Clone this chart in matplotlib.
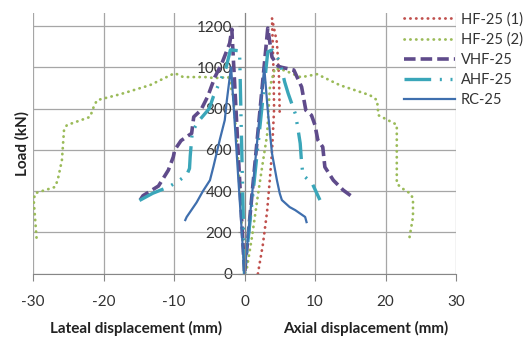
import numpy as np
import matplotlib
matplotlib.use("Agg")
import matplotlib.pyplot as plt

plt.rcParams["font.family"] = ["Lato", "DejaVu Sans"]
plt.rcParams["axes.unicode_minus"] = False

# -----------------------------
# Data
# lateral branch: from far end up to the peak, then to origin
# axial branch: from origin up to the peak, then to far end
# -----------------------------
hf1_lat_x = []
hf1_lat_y = []
hf1_ax_x = [1.9, 2.6, 3.2, 3.6, 3.9, 4.2, 4.1, 3.9, 4.6, 4.9, 5.0]
hf1_ax_y = [0, 140, 300, 460, 590, 800, 1000, 1238, 1120, 950, 760]

hf2_lat_x = [-29.5, -29.9, -29.7, -28.3, -26.9, -26.5, -25.9, -25.6, -25.2, -21.9, -21.3,
             -20.9, -17.6, -13.4, -9.9, -8.7, -5.6, -4.2, -2.3, -1.6, -1.0, -0.5, 0.0]
hf2_lat_y = [175, 356, 390, 405, 420, 453, 550, 696, 720, 760, 817,
             841, 870, 914, 972, 953, 953, 948, 953, 860, 600, 300, 0]
hf2_ax_x = [0.35, 1.1, 1.9, 2.6, 3.2, 3.6, 4.3, 5.7, 8.0, 10.3, 13.5, 17.8, 18.8, 19.0,
            21.6, 21.6, 22.3, 23.5, 23.9, 23.9, 23.4]
hf2_ax_y = [28, 187, 380, 540, 671, 905, 995, 985, 952, 967, 914, 865, 841, 768,
            722, 437, 415, 389, 365, 275, 175]

vhf_lat_x = [-14.8, -14.4, -12.2, -10.8, -10.1, -9.9, -9.0, -7.5, -7.2, -6.2, -5.2,
             -4.2, -3.2, -2.1, -1.8, 0.0]
vhf_lat_y = [357, 378, 425, 502, 566, 600, 645, 680, 760, 792, 860,
             953, 1020, 1117, 1185, 0]
vhf_ax_x = [3.3, 3.9, 4.8, 5.3, 7.0, 8.1, 8.7, 9.5, 10.0, 10.4, 11.1, 11.4, 12.6, 14.0, 15.6]
vhf_ax_y = [1190, 1050, 1005, 1000, 987, 905, 792, 768, 720, 648, 614, 517, 453, 405, 365]

ahf_lat_x = [-14.9, -13.0, -10.8, -9.6, -8.2, -7.8, -7.7, -7.5, -7.4, -6.5, -5.0,
             -4.4, -3.5, -2.6, -2.0, -0.7, 0.0]
ahf_lat_y = [355, 390, 420, 444, 478, 510, 570, 650, 690, 740, 800,
             860, 930, 1000, 1085, 1080, 0]
ahf_ax_x = [3.3, 3.9, 5.0, 5.7, 6.2, 7.2, 7.5, 7.9, 8.1, 8.3, 9.6, 10.7]
ahf_ax_y = [1075, 1084, 1030, 929, 873, 776, 720, 632, 535, 478, 438, 357]

rc_lat_x = [-8.4, -8.2, -7.7, -6.8, -5.9, -4.9, -4.4, -3.5, -2.8, -2.5, -2.1, -1.9, 0.0]
rc_lat_y = [260, 275, 300, 345, 400, 453, 520, 650, 744, 841, 950, 1000, 0]
rc_ax_x = [2.8, 3.3, 3.9, 4.6, 5.0, 5.3, 6.4, 7.2, 8.6, 8.8]
rc_ax_y = [1000, 792, 583, 453, 389, 357, 323, 308, 275, 250]

labels = ["HF-25 (1)", "HF-25 (2)", "VHF-25", "AHF-25", "RC-25"]

series = [
    (hf1_lat_x + hf1_ax_x, hf1_lat_y + hf1_ax_y),
    (hf2_lat_x + hf2_ax_x, hf2_lat_y + hf2_ax_y),
    (vhf_lat_x + vhf_ax_x, vhf_lat_y + vhf_ax_y),
    (ahf_lat_x + ahf_ax_x, ahf_lat_y + ahf_ax_y),
    (rc_lat_x + rc_ax_x, rc_lat_y + rc_ax_y),
]

styles = [
    dict(color="#C0504D", lw=2.0, linestyle=(0, (0.1, 2.0)), dash_capstyle="round"),
    dict(color="#9BBB59", lw=2.0, linestyle=(0, (0.1, 2.0)), dash_capstyle="round"),
    dict(color="#5F4B8B", lw=2.6, linestyle=(0, (3.2, 1.4))),
    dict(color="#3AA6B9", lw=2.4, linestyle=(0, (8, 2.6, 0.6, 2.6, 0.6, 2.6))),
    dict(color="#3F6FAE", lw=1.6, linestyle="-"),
]

# -----------------------------
# Figure
# -----------------------------
fig = plt.figure(figsize=(5.31, 3.38), dpi=100)
ax = fig.add_axes([33 / 531, 1 - 273.7 / 338, 423 / 531, 260.4 / 338])

for (x, y), lab, st in zip(series, labels, styles):
    ax.plot(x, y, label=lab, **st)

ax.set_xlim(-30, 30)
ax.set_ylim(0, 1262)
ax.set_xticks(np.arange(-30, 31, 10))
ax.set_yticks(np.arange(0, 1201, 200))
ax.grid(True, color="#A6A6A6", lw=0.9)
ax.set_axisbelow(True)

for s in ["top", "right"]:
    ax.spines[s].set_visible(False)
ax.spines["left"].set_position(("data", 0))
ax.spines["left"].set_color("#868686")
ax.spines["bottom"].set_color("#868686")
ax.tick_params(axis="both", colors="#868686", labelcolor="#333333", labelsize=11, length=5)
ax.tick_params(axis="x", pad=10)
ax.tick_params(axis="y", pad=4)

fig.text(22 / 531, 1 - 143 / 338, "Load (kN)", rotation=90, ha="center", va="center",
         fontsize=11, fontweight="bold", color="#222222")
fig.text(136 / 531, 1 - 328 / 338, "Lateal displacement (mm)", ha="center", va="center",
         fontsize=11, fontweight="bold", color="#222222")
fig.text(366 / 531, 1 - 328 / 338, "Axial displacement (mm)", ha="center", va="center",
         fontsize=11, fontweight="bold", color="#222222")

fig.legend(loc="upper left", bbox_to_anchor=(404 / 531, 1 - 12 / 338), frameon=False,
           fontsize=10.5, handlelength=3.5, handletextpad=0.4, labelspacing=0.42,
           borderaxespad=0, borderpad=0, labelcolor="#333333")

fig.savefig("out.png", dpi=100)
